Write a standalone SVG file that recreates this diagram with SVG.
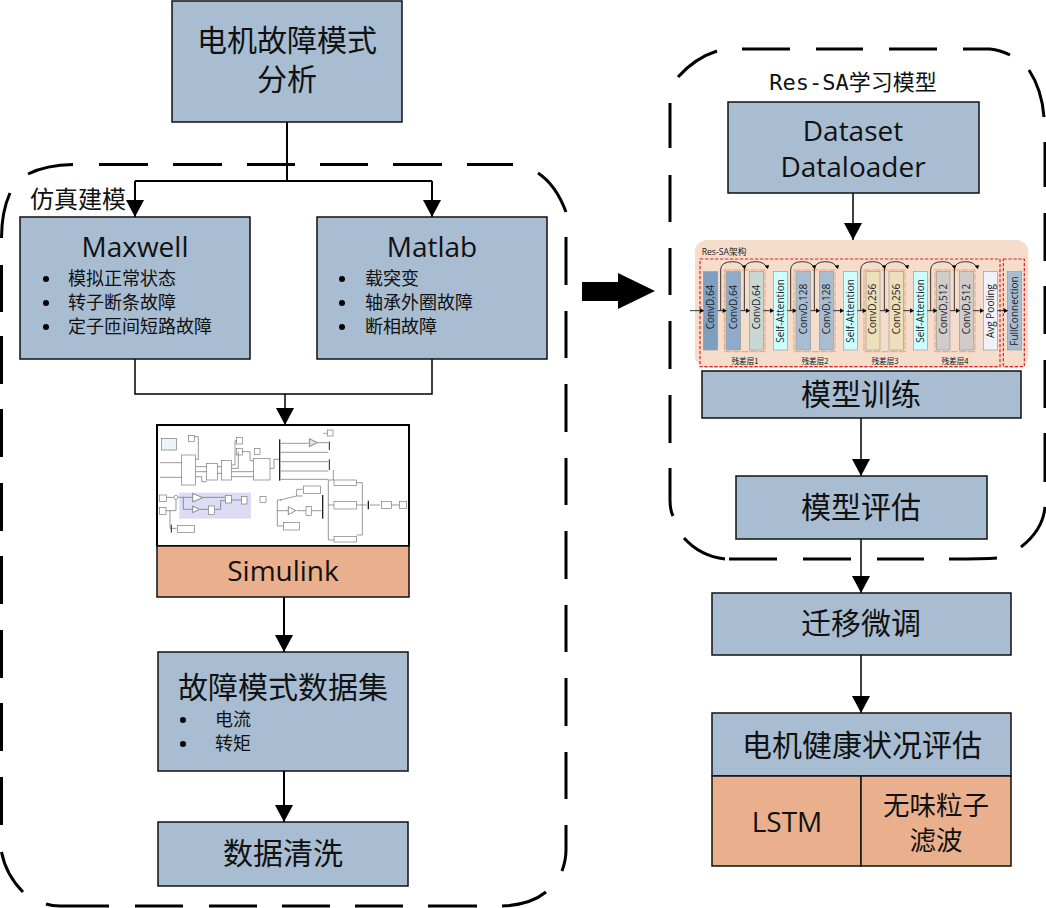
<svg xmlns="http://www.w3.org/2000/svg" width="1046" height="908" viewBox="0 0 1046 908">
<style>
text{font-family:"Open Sans","Noto Sans CJK SC","Noto Sans",sans-serif;fill:#111;text-anchor:middle}
.cjk{font-family:"Noto Sans CJK SC","Noto Sans",sans-serif}
.b{fill:#a8bdd2;stroke:#111;stroke-width:1.5}
.o{fill:#eaaf8d;stroke:#111;stroke-width:1.5}
.l{fill:none;stroke:#000;stroke-width:2}
.l2{fill:none;stroke:#000;stroke-width:1.500}
.d{fill:none;stroke:#000;stroke-width:3}
.t30{font-size:30px}.t28{font-size:28px}.t18{font-size:18px;text-anchor:start}
.r{fill:none;stroke:#e02020;stroke-width:3.500;stroke-dasharray:10 5}
.y{fill:none;stroke:#dd8a4c;stroke-width:2;stroke-dasharray:22 4}
.k{font-size:30px;fill:#222}
.a{fill:none;stroke:#111;stroke-width:2.500}
.s{fill:none;stroke:#666;stroke-width:2}
.sd{fill:none;stroke:#222;stroke-width:3}
.sb{fill:#fff;stroke:#777;stroke-width:2}
.tri{fill:#fff;stroke:#555;stroke-width:2}
</style>
<defs>
<marker id="ah" markerUnits="userSpaceOnUse" markerWidth="18" markerHeight="18" refX="17" refY="9" orient="auto"><path d="M0,0L17,9L0,18Z" fill="#000"/></marker>
</defs>

<g id="frames">
<path class="d" d="M1.500,238Q1.500,212 10,193M28,174Q46,165 73,164.500M99,164.500H148M173,164.500H222M247,164.500H295M320,164.500H368M393,164.500H442M467,164.500H513M538,173Q556,185 566,212M566,237V285M566,311V358M566,384V432M566,458V505M566,531V579M566,605V652M566,678V726M566,752V799M566,825V850Q566,860 562,871M546,892Q530,905 502,906M477,906H428M403,906H355M330,906H282M257,906H209M183,906H135M109,906H60Q52,906 46,904M23,892Q6,875 1.500,852M1.500,825V777M1.500,751V703M1.500,678V630M1.500,604V556M1.500,531V483M1.500,457V409M1.500,384V336M1.500,312V265"/>
<path class="d" d="M678,77Q695,58 717,51M742,49H790M816,49H863M889,49H937M963,49H990Q1000,50 1010,55M1029,70Q1042,90 1044,117M1045,142V187M1045,213V261M1045,286V334M1045,360V408M1045,433V482M1045,507Q1043,530 1021,547M997,558Q985,559 949,559M924,559H877M851,559H803M777,559H729M725,559Q700,556 684,538M673,516Q670,510 670,500V468M670,443V395M670,369V321M670,295V248M670,222V175M670,148V103"/>
</g>

<g id="connectors">
<path class="l" d="M287,122V181"/>
<path class="l" d="M135,181H432"/>
<path class="l" d="M135,181V217" marker-end="url(#ah)"/>
<path class="l" d="M432,181V217" marker-end="url(#ah)"/>
<path class="l2" d="M135,359V394H432V359"/>
<path class="l2" d="M285,394V425" marker-end="url(#ah)"/>
<path class="l" d="M284,597V652" marker-end="url(#ah)"/>
<path class="l" d="M284,771V822" marker-end="url(#ah)"/>
<path class="l2" d="M853,193V240" marker-end="url(#ah)"/>
<path class="l2" d="M861,418V476" marker-end="url(#ah)"/>
<path class="l2" d="M861,539V593" marker-end="url(#ah)"/>
<path class="l2" d="M861,655V713" marker-end="url(#ah)"/>
<path d="M582,282H618V273L655,291L618,309V301H582Z" fill="#000"/>
</g>

<g id="n-analysis"><rect class="b" x="172" y="1" width="230" height="121"/>
<text class="t30 cjk" x="287" y="51">电机故障模式</text><text class="t30 cjk" x="287" y="90">分析</text></g>

<text class="cjk" x="78" y="208" style="font-size:24px">仿真建模</text>

<g id="n-maxwell"><rect class="b" x="20" y="217" width="230" height="142"/>
<text class="t28" x="135" y="257">Maxwell</text>
<circle cx="46" cy="279" r="3"/><circle cx="46" cy="303" r="3"/><circle cx="46" cy="327" r="3"/>
<text class="t18 cjk" x="68" y="285">模拟正常状态</text>
<text class="t18 cjk" x="68" y="309">转子断条故障</text>
<text class="t18 cjk" x="68" y="333">定子匝间短路故障</text></g>

<g id="n-matlab"><rect class="b" x="317" y="217" width="230" height="142"/>
<text class="t28" x="432" y="257">Matlab</text>
<circle cx="342" cy="279" r="3"/><circle cx="342" cy="303" r="3"/><circle cx="342" cy="327" r="3"/>
<text class="t18 cjk" x="365" y="285">载突变</text>
<text class="t18 cjk" x="365" y="309">轴承外圈故障</text>
<text class="t18 cjk" x="365" y="333">断相故障</text></g>

<g id="n-simulink">
<rect x="157" y="425" width="252" height="121" fill="#fff" stroke="#000" stroke-width="2"/>
<g transform="translate(150,420) scale(.33333)">
<rect x="88" y="218" width="215" height="78" fill="#dcdcf5"/>
<rect class="sb" x="35" y="55" width="45" height="35" style="fill:#eef3fb"/>
<rect class="sb" x="115" y="47" width="18" height="18"/>
<rect class="sb" x="95" y="105" width="42" height="90"/>
<rect class="sb" x="170" y="130" width="32" height="50"/>
<rect class="sb" x="215" y="122" width="30" height="58"/>
<rect class="sb" x="260" y="52" width="17" height="20"/><rect class="sb" x="260" y="85" width="17" height="20"/>
<rect class="sb" x="313" y="85" width="17" height="18"/>
<rect class="sb" x="310" y="115" width="50" height="65"/>
<path class="s" d="M30,128H95M30,172H95M137,118H145V50H133M137,140H170M137,155H170M137,170H155V185H170M202,140H215M202,160H215M245,135H255V62H260M245,145H265V95M245,155H310M245,170H310M277,95H300V122H310M360,145H372V118H388"/>
<path class="sd" d="M389,58V182" style="stroke-width:4"/>
<path class="s" d="M392,70H475M392,97H535M392,125H535M392,153H535M392,178H535"/>
<path d="M478,56L502,68L478,80Z" fill="#dfe6d0" stroke="#555" stroke-width="2"/>
<path class="s" d="M502,68H535M520,40H532"/>
<rect class="sb" x="532" y="30" width="17" height="18"/>
<path class="sd" d="M538,65V90M538,118V150"/>
<path class="s" d="M550,150V180H535V360H552M535,255H552"/>
<rect class="sb" x="552" y="180" width="68" height="16"/>
<rect class="sb" x="552" y="245" width="68" height="22"/>
<rect class="sb" x="552" y="350" width="68" height="16"/>
<path class="s" d="M620,188H637V345H620M620,255H650"/>
<path class="sd" d="M655,242V268" style="stroke-width:4"/>
<rect class="sb" x="695" y="245" width="30" height="20"/>
<rect class="sb" x="748" y="245" width="22" height="20"/>
<path class="s" d="M660,255H690M725,255H748"/>
<rect class="sb" x="28" y="225" width="22" height="20"/><rect class="sb" x="28" y="263" width="20" height="20"/>
<circle cx="78" cy="232" r="6" fill="#fff" stroke="#777" stroke-width="2"/>
<path class="s" d="M50,232H72M48,272H78V238M84,232H125M100,232V268H125M158,232H225M150,268H175M195,268H212V242H225M60,272V325H80"/>
<path class="tri" d="M128,220L158,233L128,246Z"/>
<path class="tri" d="M128,258L148,268L128,278Z"/>
<rect class="sb" x="176" y="258" width="18" height="26"/>
<rect class="sb" x="226" y="227" width="18" height="22"/>
<rect class="sb" x="275" y="230" width="16" height="22"/>
<rect class="sb" x="330" y="230" width="18" height="18"/>
<path class="s" d="M244,240H275"/>
<path class="sd" d="M64,314V338"/>
<rect class="sb" x="82" y="316" width="52" height="22"/>
<path class="s" d="M396,240H382V318H400M382,272H415M390,240L440,228H458M440,272H468M485,272H515M458,208H440V228"/>
<rect class="sb" x="460" y="198" width="52" height="22"/>
<path class="tri" d="M415,260L437,272L415,284Z"/>
<rect class="sb" x="468" y="260" width="16" height="26"/>
<rect class="sb" x="400" y="308" width="48" height="22"/>
<path class="sd" d="M518,225V296" style="stroke-width:4"/>
</g>
<rect class="o" x="157" y="546" width="252" height="51"/>
<text class="t28" x="283" y="581">Simulink</text></g>

<g id="n-dataset"><rect class="b" x="158" y="652" width="250" height="119"/>
<text class="t30 cjk" x="283" y="698">故障模式数据集</text>
<circle cx="183" cy="720" r="3"/><circle cx="183" cy="744" r="3"/>
<text class="t18 cjk" x="215" y="726">电流</text><text class="t18 cjk" x="215" y="750">转矩</text></g>

<g id="n-clean"><rect class="b" x="158" y="822" width="250" height="64"/>
<text class="t30 cjk" x="283" y="864">数据清洗</text></g>

<text x="853" y="90" style="font-size:22px;font-family:'DejaVu Sans Mono','Noto Sans CJK SC',monospace">Res-SA<tspan style="font-family:'Noto Sans CJK SC',sans-serif">学习模型</tspan></text>

<g id="n-loader"><rect class="b" x="728" y="102" width="251" height="91"/>
<text class="t28" x="853" y="141">Dataset</text><text class="t28" x="853" y="177">Dataloader</text></g>

<g id="n-resnet" transform="translate(690,235) scale(.33333)">
<rect x="15" y="15" width="1000" height="383" rx="36" fill="#f6dccb"/>
<text x="35" y="60" class="k" style="text-anchor:start;font-size:26px">Res-SA<tspan class="cjk">架构</tspan></text>
<rect class="r" x="30" y="72" width="900" height="323"/>
<rect class="r" x="940" y="72" width="63" height="323"/>
<g stroke="#999" stroke-width="2">
<rect x="40" y="110" width="43" height="235" fill="#7f9fc0"/>
<rect x="108" y="110" width="44" height="235" fill="#8fabc9"/>
<rect x="178" y="110" width="42" height="235" fill="#c9d8d5"/>
<rect x="250" y="110" width="42" height="235" fill="#ccffff"/>
<rect x="318" y="110" width="44" height="235" fill="#a8bdd2"/>
<rect x="388" y="110" width="42" height="235" fill="#a8bdd2"/>
<rect x="460" y="110" width="42" height="235" fill="#ccffff"/>
<rect x="528" y="110" width="42" height="235" fill="#eedfba"/>
<rect x="597" y="110" width="43" height="235" fill="#eedfba"/>
<rect x="670" y="110" width="42" height="235" fill="#ccffff"/>
<rect x="740" y="110" width="40" height="235" fill="#cfcccb"/>
<rect x="808" y="110" width="42" height="235" fill="#cfcccb"/>
<rect x="880" y="110" width="42" height="235" fill="#f0f2f7"/>
<rect x="952" y="110" width="43" height="235" fill="#a8bdd2"/>
</g>
<rect class="y" x="103" y="105" width="122" height="245"/>
<rect class="y" x="312" y="105" width="123" height="245"/>
<rect class="y" x="522" y="105" width="123" height="245"/>
<rect class="y" x="735" y="105" width="120" height="245"/>
<g>
<text class="k" transform="translate(72,216) rotate(-90)">ConvD,64</text>
<text class="k" transform="translate(140,216) rotate(-90)">ConvD,64</text>
<text class="k" transform="translate(209,216) rotate(-90)">ConvD,64</text>
<text class="k" transform="translate(281,228) rotate(-90)">Self-Attention</text>
<text class="k" transform="translate(350,222) rotate(-90)">ConvD,128</text>
<text class="k" transform="translate(419,222) rotate(-90)">ConvD,128</text>
<text class="k" transform="translate(491,228) rotate(-90)">Self-Attention</text>
<text class="k" transform="translate(559,222) rotate(-90)">ConvD,256</text>
<text class="k" transform="translate(629,222) rotate(-90)">ConvD,256</text>
<text class="k" transform="translate(701,228) rotate(-90)">Self-Attention</text>
<text class="k" transform="translate(770,222) rotate(-90)">ConvD,512</text>
<text class="k" transform="translate(839,222) rotate(-90)">ConvD,512</text>
<text class="k" transform="translate(911,228) rotate(-90)">Avg Pooling</text>
<text class="k" transform="translate(983,228) rotate(-90)">FullConnection</text>
</g>
<g class="a">
<path d="M0,227H40M83,227H108M152,227H178M220,227H250M292,227H318M362,227H388M430,227H460M502,227H528M570,227H597M640,227H670M712,227H740M780,227H808M850,227H880M922,227H952"/>
<path d="M92,227V105Q92,80 128,80Q155,80 163,100"/>
<path d="M163,227V105Q163,80 197,80Q224,80 232,100"/>
<path d="M302,227V105Q302,80 338,80Q365,80 373,100"/>
<path d="M373,227V105Q373,80 407,80Q434,80 442,100"/>
<path d="M512,227V105Q512,80 548,80Q575,80 583,100"/>
<path d="M583,227V105Q583,80 617,80Q644,80 652,100"/>
<path d="M722,227V105Q722,80 758,80Q785,80 793,100"/>
<path d="M793,227V105Q793,80 827,80Q854,80 862,100"/>
</g>
<path fill="#000" d="M30,220L42,227L30,234ZM98,220L110,227L98,234ZM168,220L180,227L168,234ZM240,220L252,227L240,234ZM308,220L320,227L308,234ZM378,220L390,227L378,234ZM450,220L462,227L450,234ZM518,220L530,227L518,234ZM587,220L599,227L587,234ZM660,220L672,227L660,234ZM730,220L742,227L730,234ZM798,220L810,227L798,234ZM870,220L882,227L870,234ZM942,220L954,227L942,234Z"/>
<path fill="#000" d="M155,92L165,102L168,90ZM224,92L234,102L237,90ZM365,92L375,102L378,90ZM434,92L444,102L447,90ZM575,92L585,102L588,90ZM644,92L654,102L657,90ZM785,92L795,102L798,90ZM854,92L864,102L867,90Z"/>
<text class="cjk" x="165" y="386" style="font-size:23px">残差层1</text>
<text class="cjk" x="375" y="386" style="font-size:23px">残差层2</text>
<text class="cjk" x="585" y="386" style="font-size:23px">残差层3</text>
<text class="cjk" x="795" y="386" style="font-size:23px">残差层4</text>
</g>

<g id="n-train"><rect class="b" x="702" y="371" width="319" height="47"/>
<text class="t30 cjk" x="861" y="405">模型训练</text></g>
<g id="n-eval"><rect class="b" x="736" y="476" width="251" height="63"/>
<text class="t30 cjk" x="861" y="518">模型评估</text></g>
<g id="n-finetune"><rect class="b" x="712" y="593" width="299" height="62"/>
<text class="t30 cjk" x="861" y="634">迁移微调</text></g>
<g id="n-health"><rect class="b" x="712" y="713" width="299" height="63"/>
<text class="t30 cjk" x="862" y="756">电机健康状况评估</text>
<rect class="o" x="712" y="776" width="149" height="90"/><rect class="o" x="861" y="776" width="150" height="90"/>
<text class="t28" x="787" y="832">LSTM</text>
<text class="cjk" x="936" y="815" style="font-size:26.500px">无味粒子</text><text class="cjk" x="936" y="850" style="font-size:26.500px">滤波</text></g>
</svg>
